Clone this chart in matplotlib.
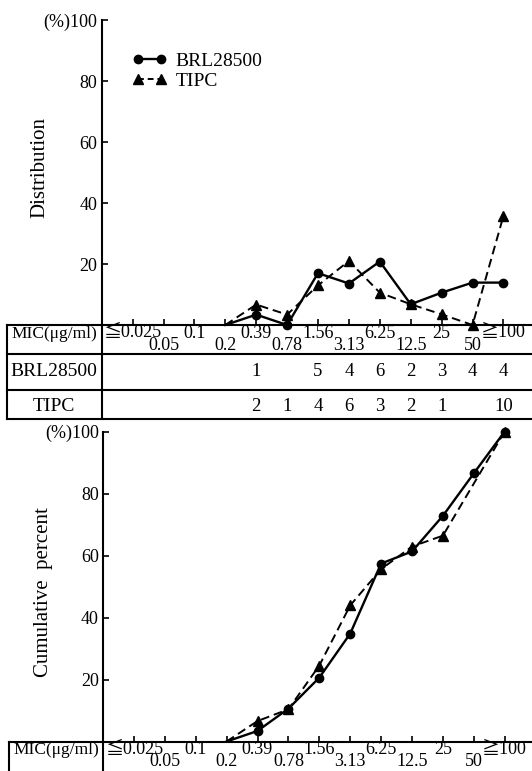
import matplotlib
matplotlib.use("Agg")
import matplotlib.pyplot as plt
from matplotlib.lines import Line2D
from matplotlib.transforms import blended_transform_factory

plt.rcParams['font.family'] = ['Liberation Serif', 'Noto Sans CJK JP', 'DejaVu Serif']

# ---- data ----
mic_labels = ['≦0.025', '0.05', '0.1', '0.2', '0.39', '0.78', '1.56', '3.13',
              '6.25', '12.5', '25', '50', '≧100']
brl_counts = [0, 0, 0, 0, 1, 0, 5, 4, 6, 2, 3, 4, 4]
tipc_counts = [0, 0, 0, 0, 2, 1, 4, 6, 3, 2, 1, 0, 10]

# distribution (%) from 0.2 to >=100
dist_cats = ['0.2', '0.39', '0.78', '1.56', '3.13', '6.25', '12.5', '25', '50', '≧100']
brl_dist = [0, 3.4, 0, 17.0, 13.6, 20.8, 6.8, 10.6, 13.9, 13.9]
tipc_dist = [0, 6.7, 3.4, 13.0, 21.0, 10.6, 6.8, 3.5, 0, 35.7]

# cumulative (%)
brl_cum_cats = ['0.2', '0.39', '0.78', '1.56', '3.13', '6.25', '12.5', '25', '50', '≧100']
brl_cum = [0, 3.4, 10.6, 20.6, 34.8, 57.4, 61.3, 72.8, 86.5, 100]
tipc_cum_cats = ['0.2', '0.39', '0.78', '1.56', '3.13', '6.25', '12.5', '25', '≧100']
tipc_cum = [0, 6.6, 10.4, 24.5, 43.9, 55.6, 62.9, 66.4, 100]

W, H = 532, 771
fig = plt.figure(figsize=(W / 100, H / 100), dpi=100)


def fy(py):
    return 1 - py / H


def fx(px):
    return px / W


def idx(names):
    return [mic_labels.index(n) for n in names]


PX_PER_CAT = 30.9


def make_axes(left_px, bottom_px, top_px):
    ax = fig.add_axes([fx(left_px), fy(bottom_px), (W - left_px) / W, (bottom_px - top_px) / H])
    ax.set_xlim(-1, -1 + (W - left_px) / PX_PER_CAT)
    ax.set_ylim(0, 100)
    for s in ['top', 'right', 'bottom']:
        ax.spines[s].set_visible(False)
    ax.spines['left'].set_linewidth(1.5)
    ax.set_xticks(range(len(mic_labels)))
    ax.set_xticklabels([])
    ax.set_yticks([20, 40, 60, 80, 100])
    ax.set_yticklabels(['20', '40', '60', '80', '(%)100'])
    ax.tick_params(axis='both', direction='in', length=4.5, width=1.2, labelsize=13, pad=3)
    ax.patch.set_alpha(0)
    return ax


def draw_series(ax, cats, vals, style):
    xs = idx(cats)
    if style == 'brl':
        ax.plot(xs, vals, color='black', lw=1.7, solid_joinstyle='miter', clip_on=False)
        ax.plot(xs[1:], vals[1:], 'o', color='black', ms=6, clip_on=False)
    else:
        ax.plot(xs, vals, color='black', lw=1.4, linestyle=(0, (4.5, 2.5)), clip_on=False)
        ax.plot(xs[1:], vals[1:], '^', color='black', ms=6.5, clip_on=False)


def hline(py, x0, x1, lw=1.5):
    fig.add_artist(Line2D([fx(x0), fx(x1)], [fy(py), fy(py)], color='black', lw=lw,
                          transform=fig.transFigure))


def vline(px, y0, y1, lw=1.5):
    fig.add_artist(Line2D([fx(px), fx(px)], [fy(y0), fy(y1)], color='black', lw=lw,
                          transform=fig.transFigure))


def mic_row(ax, top_py, left_border, axis_px, label_dy):
    tr = blended_transform_factory(ax.transData, fig.transFigure)
    for i, lab in enumerate(mic_labels):
        yy = top_py + (8 if i % 2 == 0 else 20.5)
        ax.text(i, fy(yy), lab, transform=tr, ha='center', va='center', fontsize=13,
                clip_on=False)
    fig.text(fx((left_border + axis_px) / 2), fy(top_py + label_dy), 'MIC(μg/ml)',
             ha='center', va='center', fontsize=12.5)


# ---- top panel ----
ax1 = make_axes(101.7, 325, 20)
draw_series(ax1, dist_cats, brl_dist, 'brl')
draw_series(ax1, dist_cats, tipc_dist, 'tipc')
ax1.set_ylabel('Distribution', fontsize=15)
ax1.yaxis.set_label_coords(-0.1225, 0.515)

handles = [Line2D([], [], color='black', lw=1.7, marker='o', ms=6),
           Line2D([], [], color='black', lw=1.4, linestyle=(0, (3, 2)), marker='^', ms=6.5)]
ax1.legend(handles, ['BRL28500', 'TIPC'], loc='upper left', bbox_to_anchor=(0.07, 0.895),
           frameon=False, fontsize=14, numpoints=2, handlelength=1.8, handletextpad=0.45,
           labelspacing=0.15, borderpad=0, borderaxespad=0)

# table below top panel
t_top, r1, r2, t_bot = 325, 354, 390, 419.5
left_b = 6.7
for py in [t_top, r1, r2, t_bot]:
    hline(py, left_b, W)
vline(left_b, t_top, t_bot)
vline(101.7, t_top, t_bot)
mic_row(ax1, t_top, left_b, 101.7, 9.5)

tr1 = blended_transform_factory(ax1.transData, fig.transFigure)
fig.text(fx((left_b + 101.7) / 2), fy(371.5), 'BRL28500', ha='center', va='center', fontsize=14)
fig.text(fx((left_b + 101.7) / 2), fy(406.5), 'TIPC', ha='center', va='center', fontsize=14)
for i, c in enumerate(brl_counts):
    if c:
        ax1.text(i, fy(371.5), str(c), transform=tr1, ha='center', va='center', fontsize=13.5)
for i, c in enumerate(tipc_counts):
    if c:
        ax1.text(i, fy(406.5), str(c), transform=tr1, ha='center', va='center', fontsize=13.5)

# ---- bottom panel ----
ax2 = make_axes(103, 741.5, 431.5)
draw_series(ax2, brl_cum_cats, brl_cum, 'brl')
draw_series(ax2, tipc_cum_cats, tipc_cum, 'tipc')
ax2.set_ylabel('Cumulative  percent', fontsize=15)
ax2.yaxis.set_label_coords(-0.1166, 0.482)

b_top = 741.5
left_b2 = 9.3
hline(b_top, left_b2, W)
vline(left_b2, b_top, H + 2)
vline(103, b_top, H + 2)
mic_row(ax2, b_top, left_b2, 103, 8.5)

fig.savefig('out.png', dpi=100)
